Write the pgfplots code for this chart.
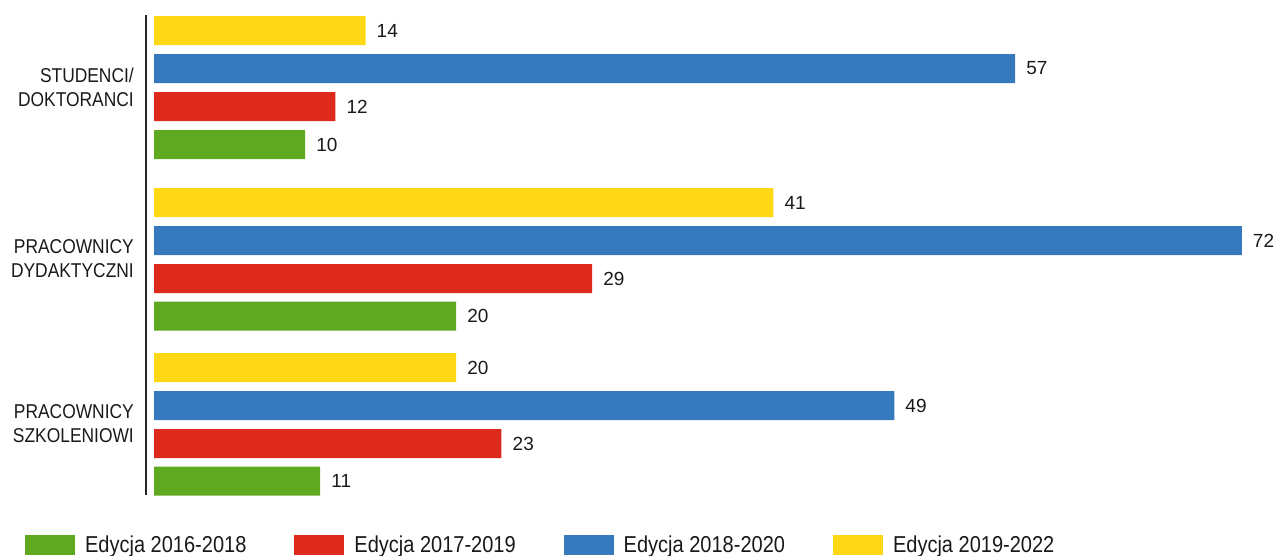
\documentclass[border=0pt]{standalone}
\usepackage{pgfplots}
\pgfplotsset{compat=1.18}
\usepackage{fontspec}
\setmainfont{Liberation Sans}
\newfontfamily\cond[FakeStretch=0.87]{Liberation Sans}
\definecolor{cyel}{HTML}{FFD815}
\definecolor{cblu}{HTML}{3679BD}
\definecolor{cred}{HTML}{DE2A1C}
\definecolor{cgrn}{HTML}{5FA920}
\begin{document}
\begin{tikzpicture}[x=1bp,y=1bp]
\useasboundingbox (0,0) rectangle (1279,-556);
\begin{axis}[
  at={(146bp,-15bp)}, anchor=north west,
  scale only axis, width=1126bp, height=480bp,
  xmin=-0.53, xmax=74, ymin=15, ymax=495, y dir=reverse,
  axis x line=none, axis y line*=left,
  y axis line style={draw=black!85, line width=1.3bp, -},
  clip=false,
  xbar, bar width=29bp, bar shift=0pt,
  xtick=\empty,
  ytick={87.5,259,424},
  yticklabels={STUDENCI/\\DOKTORANCI, PRACOWNICY\\DYDAKTYCZNI, PRACOWNICY\\SZKOLENIOWI},
  major tick length=0pt,
  yticklabel style={align=right, inner sep=0pt, xshift=-12bp, font=\cond\fontsize{20bp}{24bp}\selectfont, text=black!90},
  /pgf/number format/assume math mode=true,
  nodes near coords,
  nodes near coords style={anchor=west, inner sep=0pt, xshift=11bp, font=\fontsize{19bp}{22bp}\selectfont, text=black!90},
  legend columns=4,
  legend image code/.code={\fill[#1] (0bp,-10bp) rectangle (50bp,10bp);},
  legend style={draw=none, fill=none, inner sep=0pt, anchor=north west,
    at={(axis description cs:-0.1075,-0.08)},
    font=\cond\fontsize{23bp}{27bp}\selectfont, text=black!90,
    /tikz/every odd column/.append style={column sep=8bp},
    /tikz/every even column/.append style={column sep=46bp}},
]
\addplot[fill=cgrn, draw=none] coordinates {(10,144.5) (20,316) (11,481)};
\addplot[fill=cred, draw=none] coordinates {(12,106.5) (29,278.5) (23,443.5)};
\addplot[fill=cblu, draw=none] coordinates {(57,68.5) (72,240.5) (49,405.5)};
\addplot[fill=cyel, draw=none] coordinates {(14,30.5) (41,202.5) (20,367.5)};
\legend{Edycja 2016-2018, Edycja 2017-2019, Edycja 2018-2020, Edycja 2019-2022}
\end{axis}
\end{tikzpicture}
\end{document}
